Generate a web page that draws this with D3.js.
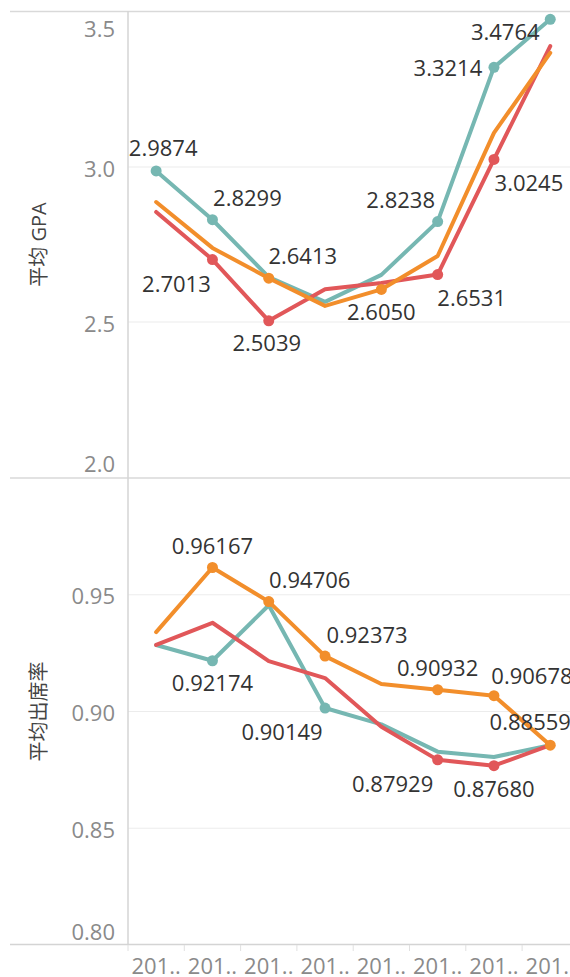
<!DOCTYPE html>
<html><head><meta charset="utf-8">
<script src="https://cdn.jsdelivr.net/npm/d3@7"></script>
<style>body{margin:0;background:#fff}svg{display:block}</style>
</head><body>
<svg id="c" width="570" height="977"></svg>
<script>
// ---------- data ----------
const categories = ["201..","201..","201..","201..","201..","201..","201..","201.."];
const seriesNames = ["teal","red","orange"];
const gpaTeal   = [2.9874, 2.8299, 2.645, 2.565, 2.652, 2.8238, 3.3214, 3.4764];
const gpaRed    = [2.855, 2.7013, 2.5039, 2.606, 2.626, 2.6531, 3.0245, 3.39];
const gpaOrange = [2.887, 2.739, 2.6413, 2.552, 2.6050, 2.713, 3.11, 3.368];
const attTeal   = [0.9285, 0.92174, 0.9455, 0.90149, 0.8945, 0.8828, 0.8805, 0.8856];
const attRed    = [0.9285, 0.938, 0.9216, 0.9143, 0.8935, 0.87929, 0.87680, 0.8856];
const attOrange = [0.934, 0.96167, 0.94706, 0.92373, 0.9118, 0.90932, 0.90678, 0.88559];
const gpaTicks = [2.0, 2.5, 3.0, 3.5];
const attTicks = [0.80, 0.85, 0.90, 0.95];
const gpaTitle = "平均 GPA";
const attTitle = "平均出席率";
// labelled points: [series, index]
const gpaLabelled = [["teal",0],["teal",1],["red",1],["red",2],["orange",2],["orange",4],["teal",5],["red",5],["teal",6],["red",6],["teal",7]];
const attLabelled = [["orange",1],["teal",1],["orange",2],["orange",3],["orange",5],["orange",6],["orange",7],["teal",3],["red",5],["red",6]];

// ---------- styles / placement ----------
const colors = {teal:"#76B7B2", red:"#E15759", orange:"#F28E2B"};
const gpaOffsets = [[7,-24],[35,-23],[-36,23],[-2,21],[34,-23],[0,22],[-37,-23],[34,22],[-46,0],[35,23],[-45,12]];
const attOffsets = [[0,-23],[0,21],[41,-23],[42,-22],[0,-23],[38,-21],[-20,-24],[-43,23],[-45,23],[0,22]];
const FONT = "'Open Sans', 'Noto Sans CJK SC', sans-serif";

const svg = d3.select("#c");
const x = d3.scaleBand().domain(d3.range(categories.length)).range([128, 578.4]).padding(0);
const cx = i => x(i) + x.bandwidth()/2;

function panel(opts){
  const {y0, y1, domain, ticks, title, data, labelled, offsets, fmt} = opts;
  const y = d3.scaleLinear().domain(domain).range([y1, y0]);
  const g = svg.append("g");
  // gridlines
  g.selectAll("line.grid").data(ticks.filter(t => y(t) > y0 + 2 && y(t) < y1 - 2)).enter()
    .append("line").attr("x1",128).attr("x2",570).attr("y1",d=>y(d)).attr("y2",d=>y(d))
    .attr("stroke","#ececec").attr("stroke-width",1.2);
  // y axis via d3 axis
  const ax = g.append("g").attr("transform","translate(115,0)")
    .call(d3.axisLeft(y).tickValues(ticks).tickSize(0).tickPadding(0).tickFormat(d3.format(opts.tickFmt)));
  ax.select(".domain").remove();
  ax.selectAll("text").attr("x",0).attr("text-anchor","end")
    .attr("font-family",FONT).attr("font-size",22).attr("fill","#8a8a8a")
    .attr("dy",null).attr("dominant-baseline","central")
    .attr("y", 0)
    .each(function(d){
      const yy = y(d);
      const cy = Math.max(y0 + 15, Math.min(y1 - 15, yy));
      d3.select(this).attr("transform", `translate(0,${cy-yy})`);
    });
  // title
  g.append("text").attr("transform",`translate(38,${(y0+y1)/2}) rotate(-90)`)
    .attr("text-anchor","middle").attr("dominant-baseline","central")
    .attr("font-family",FONT).attr("font-size",20).attr("fill","#444").text(title);
  // lines
  const line = d3.line().x((d,i)=>cx(i)).y(d=>y(d)).curve(d3.curveLinear);
  seriesNames.forEach(s => {
    g.append("path").datum(data[s]).attr("d",line).attr("fill","none")
      .attr("stroke",colors[s]).attr("stroke-width",4).attr("stroke-linejoin","round").attr("stroke-linecap","round");
  });
  // markers
  g.selectAll("circle.m").data(labelled).enter().append("circle")
    .attr("cx",d=>cx(d[1])).attr("cy",d=>y(data[d[0]][d[1]])).attr("r",5.5)
    .attr("fill",d=>colors[d[0]]);
  // labels
  g.selectAll("text.lab").data(labelled).enter().append("text")
    .attr("x",(d,i)=>cx(d[1]) + offsets[i][0]).attr("y",(d,i)=>y(data[d[0]][d[1]]) + offsets[i][1])
    .attr("text-anchor","middle").attr("dominant-baseline","central")
    .attr("font-family",FONT).attr("font-size",22).attr("fill","#333")
    .text(d => d3.format(fmt)(data[d[0]][d[1]]));
}

// frame lines
svg.append("line").attr("x1",10).attr("x2",570).attr("y1",11.5).attr("y2",11.5).attr("stroke","#d9d9d9").attr("stroke-width",1.5);
svg.append("line").attr("x1",10).attr("x2",570).attr("y1",478).attr("y2",478).attr("stroke","#d9d9d9").attr("stroke-width",1.5);

panel({y0:12, y1:477, domain:[2.0,3.5], ticks:gpaTicks, title:gpaTitle, tickFmt:".1f",
  data:{teal:gpaTeal, red:gpaRed, orange:gpaOrange}, labelled:gpaLabelled, offsets:gpaOffsets, fmt:".4f"});
panel({y0:478, y1:945, domain:[0.80,1.00], ticks:attTicks, title:attTitle, tickFmt:".2f",
  data:{teal:attTeal, red:attRed, orange:attOrange}, labelled:attLabelled, offsets:attOffsets, fmt:".5f"});

// y axis line
svg.append("line").attr("x1",128).attr("x2",128).attr("y1",11).attr("y2",945).attr("stroke","#d4d4d4").attr("stroke-width",1.5);

// x axis
const xa = svg.append("g").attr("transform","translate(0,944.5)")
  .call(d3.axisBottom(x).tickSize(0).tickPadding(0).tickFormat(i => categories[i]));
xa.select(".domain").remove();
xa.selectAll("text").attr("y",20).attr("dy",null).attr("dominant-baseline","central")
  .attr("font-family",FONT).attr("font-size",22).attr("fill","#8a8a8a");
svg.append("line").attr("x1",10).attr("x2",570).attr("y1",944.5).attr("y2",944.5).attr("stroke","#d4d4d4").attr("stroke-width",1.5);
svg.selectAll("line.xt").data(d3.range(categories.length)).enter().append("line")
  .attr("x1",i=>x(i)).attr("x2",i=>x(i)).attr("y1",945).attr("y2",951)
  .attr("stroke","#e0e0e0").attr("stroke-width",1);
</script>
</body></html>
